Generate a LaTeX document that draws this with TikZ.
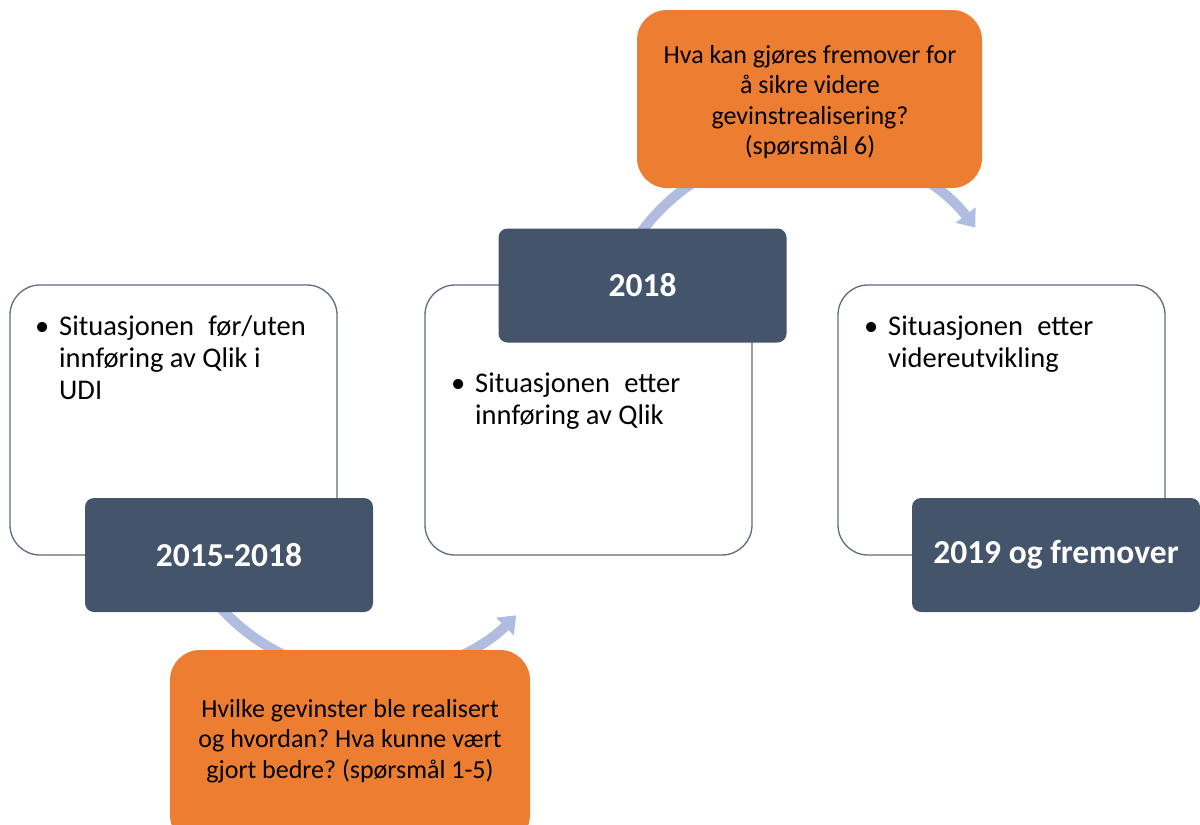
\documentclass[tikz,border=0pt]{standalone}
\usepackage{fontspec}
\setmainfont{Carlito}
\usetikzlibrary{arrows.meta}
\frenchspacing
\definecolor{darkbox}{HTML}{44546A}
\definecolor{orangebox}{HTML}{ED7D31}
\definecolor{arrowblue}{RGB}{176,189,224}
\definecolor{framegray}{HTML}{5F6B7F}
\tikzset{
  whitebox/.style={draw=framegray, line width=1.3pt, fill=white, rounded corners=30pt,
    minimum width=327pt, minimum height=270pt, inner sep=0pt},
  yearbox/.style={fill=darkbox, rounded corners=9pt, minimum width=288pt, minimum height=114pt,
    inner sep=0pt, text=white, font=\fontsize{33.5}{38}\selectfont\bfseries},
  questbox/.style={fill=orangebox, rounded corners=30pt, inner sep=0pt},
  questtext/.style={inner sep=0pt, align=center, font=\fontsize{26}{30.5}\selectfont\frenchspacing},
  bodytext/.style={inner sep=0pt, anchor=base west, font=\fontsize{28.5}{32}\selectfont},
  cyclearrow/.style={draw=arrowblue, line width=10pt, -{Triangle[width=24pt,length=16pt]}}
}
\newcommand{\bul}{\makebox[24pt][l]{\textbullet}}
\newcommand{\wsp}{\hspace{0.5em}}
\begin{document}
\begin{tikzpicture}[x=1pt,y=-1pt]
\useasboundingbox (0,0) rectangle (1200,825);
% arrows (drawn first, behind boxes)
\coordinate (c1) at (372,471);
\coordinate (c2) at (810,357);
\draw[cyclearrow] (c1) ++(150:204) arc[start angle=150, end angle=45, radius=204];
\draw[cyclearrow] (c2) ++(-150:210) arc[start angle=-150, end angle=-38, radius=210];
% white boxes
\node[whitebox] (w1) at (173.5,420) {};
\node[whitebox] (w2) at (588.5,420) {};
\node[whitebox] (w3) at (1001.5,420) {};
% body texts
\node[bodytext] (t1) at (35,335) {\begin{tabular}[t]{@{}l@{}l@{}}\bul & Situasjonen\wsp før/uten\\ & innføring av Qlik i\\ & UDI\end{tabular}};
\node[bodytext] (t2) at (451,392) {\begin{tabular}[t]{@{}l@{}l@{}}\bul & Situasjonen\wsp etter\\ & innføring av Qlik\end{tabular}};
\node[bodytext] (t3) at (864,335) {\begin{tabular}[t]{@{}l@{}l@{}}\bul & Situasjonen\wsp etter\\ & videreutvikling\end{tabular}};
% year boxes
\node[yearbox] (y1) at (229,555) {2015-2018};
\node[yearbox] (y2) at (642.5,285.5) {2018};
\node[yearbox] (y3) at (1056,555) {2019 og fremover};
% question boxes
\node[questbox, minimum width=360pt, minimum height=195pt] (q1) at (350,747.5) {};
\node[questtext] (q1t) at (350,741) {Hvilke gevinster ble realisert\\og hvordan? Hva kunne vært\\gjort bedre? (spørsmål 1-5)};
\node[questbox, minimum width=345pt, minimum height=178pt] (q2) at (809.5,99) {};
\node[questtext] (q2t) at (810,102) {Hva kan gjøres fremover for\\å sikre videre\\gevinstrealisering?\\(spørsmål 6)};
\end{tikzpicture}
\end{document}
